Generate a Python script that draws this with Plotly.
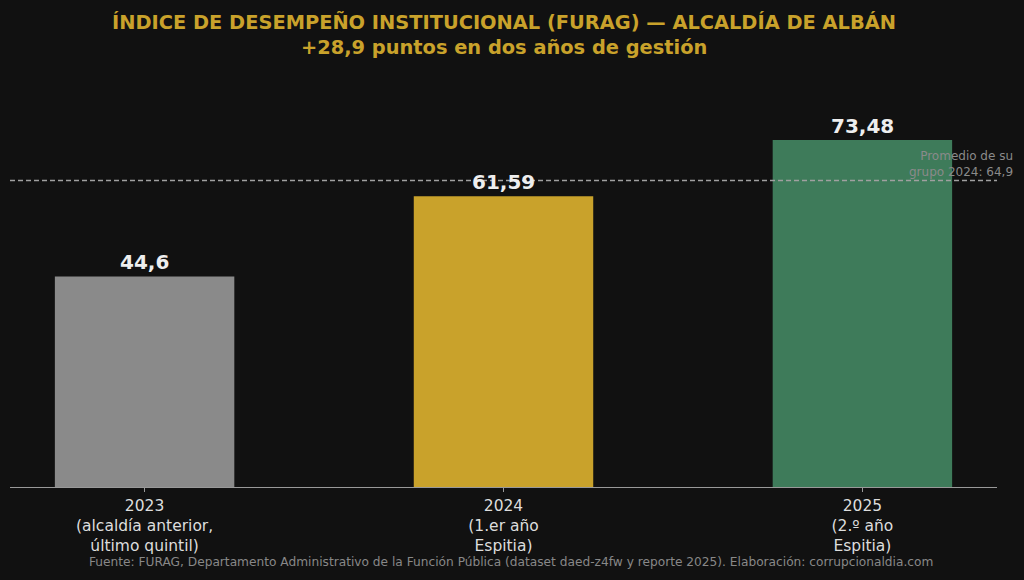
import plotly.graph_objects as go

years = ["2023", "2024", "2025"]
tick_labels = ["2023<br>(alcaldía anterior,<br>último quintil)",
               "2024<br>(1.er año<br>Espitia)",
               "2025<br>(2.º año<br>Espitia)"]
values = [44.6, 61.59, 73.48]
value_labels = ["44,6", "61,59", "73,48"]
colors = ["#8a8a8a", "#c9a22b", "#3e7b5a"]
group_avg = 64.9
group_avg_label = "Promedio de su<br>grupo 2024: 64,9"

x_pos = list(range(len(years)))

fig = go.Figure()
fig.add_trace(go.Bar(x=x_pos, y=values, marker_color=colors, width=0.5,
                     marker_line_width=0, hoverinfo="skip"))

for xi, v, lab in zip(x_pos, values, value_labels):
    fig.add_annotation(x=xi, y=v, text=f"<b>{lab}</b>", showarrow=False,
                       yanchor="bottom", yshift=0,
                       font=dict(family="DejaVu Sans", size=20, color="#eeeeee"))

fig.add_shape(type="line", xref="paper", x0=0, x1=1, yref="y", y0=group_avg, y1=group_avg,
              line=dict(color="#a0a0a0", width=1.5, dash="5px,3px"))
fig.add_annotation(xref="paper", x=1.018, y=group_avg, yref="y", text=group_avg_label,
                   showarrow=False, xanchor="right", yanchor="bottom", align="right", yshift=0,
                   font=dict(family="DejaVu Sans", size=12, color="#8a8a8a"))

fig.add_annotation(xref="paper", yref="paper", x=0.5, y=1, text="<b>ÍNDICE DE DESEMPEÑO INSTITUCIONAL (FURAG) — ALCALDÍA DE ALBÁN</b>",
                   showarrow=False, xanchor="center", yanchor="middle", yshift=88 - 22,
                   font=dict(family="DejaVu Sans", size=19.4, color="#c9a22b"))
fig.add_annotation(xref="paper", yref="paper", x=0.5, y=1, text="<b>+28,9 puntos en dos años de gestión</b>",
                   showarrow=False, xanchor="center", yanchor="middle", yshift=88 - 47,
                   font=dict(family="DejaVu Sans", size=19.4, color="#c9a22b"))
fig.add_annotation(xref="paper", yref="paper", x=0.5, y=0, text="Fuente: FURAG, Departamento Administrativo de la Función Pública (dataset daed-z4fw y reporte 2025). Elaboración: corrupcionaldia.com",
                   showarrow=False, xanchor="center", yanchor="middle", yshift=-(562 - 487), xshift=7,
                   font=dict(family="DejaVu Sans", size=12.2, color="#888888"))

fig.update_layout(
    width=1024, height=580,
    paper_bgcolor="#111111", plot_bgcolor="#111111",
    margin=dict(l=10, r=27, t=88, b=93),
    showlegend=False,
    font=dict(family="DejaVu Sans", color="#dddddd"),
    xaxis=dict(range=[-0.375, 2.375], tickmode="array", tickvals=x_pos, ticktext=tick_labels,
               showgrid=False, zeroline=False, showline=True, linecolor="#999999", linewidth=1,
               ticks="outside", ticklen=4, tickcolor="#999999",
               tickfont=dict(family="DejaVu Sans", size=15.5, color="#dddddd")),
    yaxis=dict(range=[0, 84.5], visible=False, showgrid=False),
)

fig.write_html("out.html", config={"displayModeBar": False},
               post_script="document.body.style.margin='0';document.body.style.background='#111111';document.body.style.overflow='hidden';")
